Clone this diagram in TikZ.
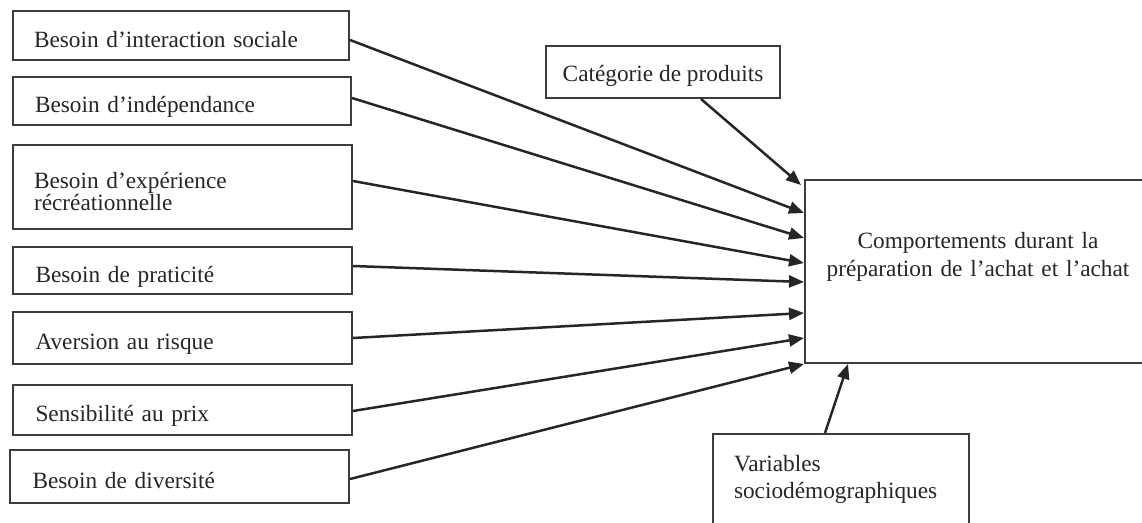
\documentclass[tikz,border=0pt]{standalone}
\usepackage{fontspec}
\setmainfont{Liberation Serif}
\usetikzlibrary{arrows.meta}
\definecolor{ink}{HTML}{262626}
\definecolor{frame}{HTML}{3C3C3C}
\begin{document}
\begin{tikzpicture}[x=1pt,y=-1pt,
  every node/.style={font=\fontsize{23.3}{22}\selectfont, text=ink},
  box/.style={draw=frame, line width=2pt, rectangle, anchor=north west,
    inner xsep=21pt, inner ysep=0pt, align=left},
  factor/.style={box, text width=294pt, text height=23pt, text depth=0pt},
  link/.style={draw=ink, line width=2.5pt, -{Triangle[length=15pt,width=12pt]}}
]
\useasboundingbox (0,0) rectangle (1142,522);
\fill[white] (0,0) rectangle (1142,522);
\clip (0,0) rectangle (1142,522);

% left column: the explanatory needs and traits
\node[factor, minimum width=336pt, minimum height=49pt] (b1) at (12,10) {Besoin d’interaction sociale};
\node[factor, minimum width=338pt, minimum height=48pt] (b2) at (12,76) {Besoin d’indépendance};
\node[box, minimum width=339pt, minimum height=84pt, text width=297pt,
      text height=24pt, text depth=22pt] (b3) at (12,144) {Besoin d’expérience\\récréationnelle};
\node[factor, minimum width=339pt, minimum height=47pt] (b4) at (12,246) {Besoin de praticité};
\node[factor, minimum width=339pt, minimum height=52pt] (b5) at (12,311) {Aversion au risque};
\node[factor, minimum width=339pt, minimum height=50pt] (b6) at (12,384) {Sensibilité au prix};
\node[factor, minimum width=339pt, minimum height=53pt] (b7) at (9,449) {Besoin de diversité};

% moderators
\node[box, align=center, inner xsep=0pt, minimum width=234pt, minimum height=52pt,
      text height=18pt, text depth=0pt] (cat) at (545,45) {Catégorie de produits};
\node[box, font=\fontsize{23.3}{27}\selectfont, minimum width=256pt, minimum height=112pt,
      text width=214pt, text height=16pt, text depth=54pt] (var) at (712,433)
      {Variables\\sociodémographiques};

% outcome
\node[box, align=center, inner xsep=0pt, font=\fontsize{23.3}{28}\selectfont,
      minimum width=346pt, minimum height=183pt, text width=346pt,
      text height=16pt, text depth=63pt] (main) at (804,179)
      {Comportements durant la\\préparation de l’achat et l’achat};

% influences
\draw[link] ([yshift=-4.5pt]b1.east) -- ([yshift=-34pt]main.north west);
\draw[link] ([yshift=3pt]b2.east) -- ([yshift=-59pt]main.north west);
\draw[link] ([yshift=6pt]b3.east) -- ([yshift=-84pt]main.north west);
\draw[link] ([yshift=4.5pt]b4.east) -- ([yshift=-103pt]main.north west);
\draw[link] (b5.east) -- ([yshift=-134pt]main.north west);
\draw[link] ([yshift=-1pt]b6.east) -- ([yshift=-159pt]main.north west);
\draw[link] ([yshift=-2.5pt]b7.east) -- (main.south west);
\draw[link] ([xshift=38pt]cat.south) -- ([xshift=-3pt,yshift=-6pt]main.north west);
\draw[link] ([xshift=113pt]var.north west) -- ([xshift=44pt]main.south west);
\end{tikzpicture}
\end{document}
